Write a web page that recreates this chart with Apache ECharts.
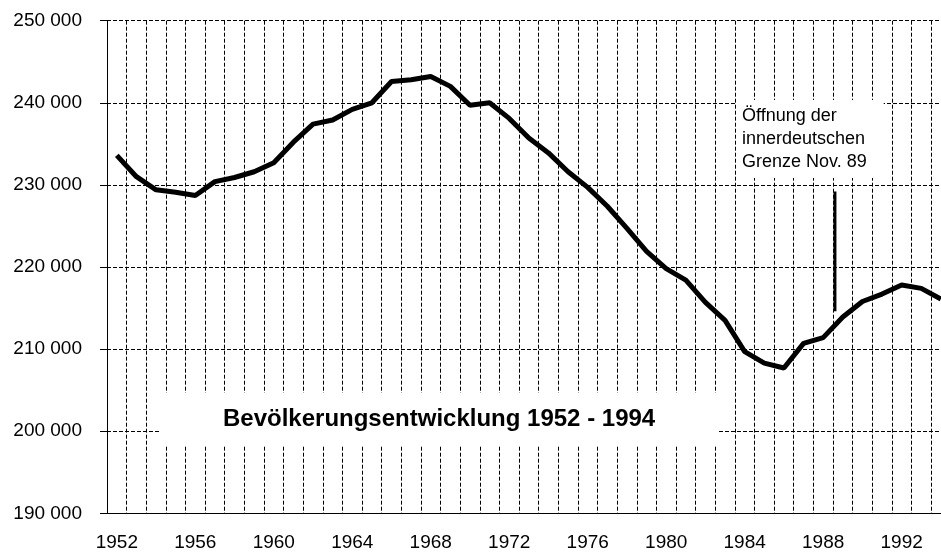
<!DOCTYPE html>
<html>
<head>
<meta charset="utf-8">
<title>Bevölkerungsentwicklung 1952 - 1994</title>
<script src="https://cdn.jsdelivr.net/npm/echarts@6/dist/echarts.min.js"></script>
<style>
  html, body { margin: 0; padding: 0; background: #fff; }
  #chart { width: 941px; height: 553px; }
</style>
</head>
<body>
<div id="chart"></div>
<script>
// 年份（x轴类目）
var years = ['1952', '1953', '1954', '1955', '1956', '1957', '1958', '1959', '1960', '1961',
  '1962', '1963', '1964', '1965', '1966', '1967', '1968', '1969', '1970', '1971',
  '1972', '1973', '1974', '1975', '1976', '1977', '1978', '1979', '1980', '1981',
  '1982', '1983', '1984', '1985', '1986', '1987', '1988', '1989', '1990', '1991',
  '1992', '1993', '1994'];
// 人口数据
var population = [233600, 231000, 229400, 229100, 228700, 230400, 230900, 231600, 232700, 235200,
  237400, 237900, 239200, 240000, 242600, 242800, 243200, 242000, 239700, 240000,
  238100, 235700, 233900, 231600, 229700, 227400, 224700, 221900, 219800, 218400,
  215700, 213500, 209700, 208300, 207700, 210700, 211400, 213900, 215800, 216700,
  217800, 217400, 216100];
// 边境开放标记（Nov. 89）
var openingMark = [[1988.6, 229200], [1988.6, 214600]];
var yMin = 190000, yMax = 250000, yStep = 10000;

var titleText = 'Bevölkerungsentwicklung 1952 - 1994';
var noteText = 'Öffnung der\ninnerdeutschen\nGrenze Nov. 89';

var font = '"Liberation Sans", Arial, sans-serif';
var gridDash = {
  color: '#000',
  width: 1,
  type: [4, 2]
};

var myChart = echarts.init(document.getElementById('chart'));
var option = {
  animation: false,
  backgroundColor: '#fff',
  // 标题放在白色方框里
  title: {
    text: titleText,
    left: 161,
    top: 393,
    padding: [14, 63, 14, 62],
    backgroundColor: '#fff',
    textStyle: {
      fontFamily: font,
      fontSize: 24,
      fontWeight: 'bold',
      color: '#000',
      lineHeight: 24
    }
  },
  // 图表右侧被裁掉一点，最后一年在画布边缘
  grid: {
    left: 107,
    top: 20.7,
    width: 843.7,
    height: 492.6,
    outerBoundsMode: 'none',
    containLabel: false
  },
  xAxis: [{
    type: 'category',
    data: years,
    boundaryGap: true,
    axisLine: {
      lineStyle: { color: '#000', width: 1 }
    },
    axisTick: {
      interval: 0,
      length: 8,
      lineStyle: { color: '#000' }
    },
    axisLabel: {
      interval: 3,
      margin: 20,
      color: '#000',
      fontFamily: font,
      fontSize: 19
    },
    splitLine: {
      show: true,
      interval: 0,
      lineStyle: gridDash
    }
  }, {
    // 隐藏的数值轴，用来放标记线
    type: 'value',
    show: false,
    min: 1951.5,
    max: 1994.5
  }],
  yAxis: {
    type: 'value',
    min: yMin,
    max: yMax,
    interval: yStep,
    axisLine: {
      show: true,
      lineStyle: { color: '#000', width: 1 }
    },
    axisTick: {
      show: true,
      length: 7,
      lineStyle: { color: '#000' }
    },
    axisLabel: {
      margin: 25,
      color: '#000',
      fontFamily: font,
      fontSize: 19,
      formatter: function (v) {
        return String(v).replace(/\B(?=(\d{3})+(?!\d))/g, ' ');
      }
    },
    splitLine: {
      show: true,
      lineStyle: gridDash
    }
  },
  graphic: [{
    type: 'text',
    left: 737,
    top: 100,
    z: 100,
    style: {
      text: noteText,
      font: '18px "Liberation Sans", Arial, sans-serif',
      fill: '#000',
      lineHeight: 23,
      backgroundColor: '#fff',
      padding: [5, 17, 4, 5]
    }
  }],
  series: [{
    name: 'Bevölkerung',
    type: 'line',
    data: population,
    symbol: 'none',
    lineStyle: { color: '#000', width: 5 },
    z: 5
  }, {
    name: 'Grenzöffnung',
    type: 'line',
    xAxisIndex: 1,
    data: openingMark,
    symbol: 'none',
    lineStyle: { color: '#000', width: 3 },
    z: 5
  }]
};
myChart.setOption(option);
</script>
</body>
</html>
